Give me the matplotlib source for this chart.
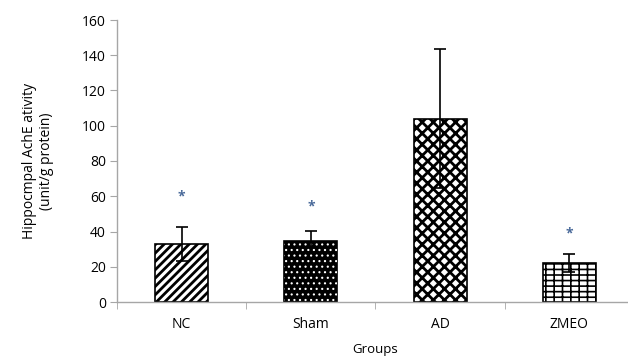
import matplotlib
matplotlib.use("Agg")
import matplotlib.pyplot as plt
import numpy as np

# ----------------------------
# Data
# ----------------------------
groups = ["NC", "Sham", "AD", "ZMEO"]
means = [33, 34.5, 104, 22]
errors = [9.5, 6, 39.5, 5]
star_pos = [60, 54, None, 39]

plt.rcParams["font.family"] = ["Open Sans", "DejaVu Sans"]
plt.rcParams["font.size"] = 10

# ----------------------------
# Plot
# ----------------------------
fig = plt.figure(figsize=(6.28, 3.62), dpi=100)
ax = fig.add_axes([117 / 628, 1 - 302 / 362, (634 - 117) / 628, (302 - 20) / 362])

x = np.arange(len(groups))
w = 0.41
grey = "#a6a6a6"

# NC - diagonal stripes
with plt.rc_context({"hatch.linewidth": 2.0}):
    ax.bar(x[0], means[0], w, facecolor="white", edgecolor="black", hatch="////", linewidth=1.2)

# Sham - black with white dots
ax.bar(x[1], means[1], w, facecolor="black", edgecolor="black", linewidth=1.2)
with plt.rc_context({"hatch.linewidth": 0.8}):
    ax.bar(x[1], means[1], w, facecolor="none", edgecolor="white", hatch="...", linewidth=0)

# AD - diamond check
with plt.rc_context({"hatch.linewidth": 2.0}):
    ax.bar(x[2], means[2], w, facecolor="white", edgecolor="black", hatch="xxx", linewidth=1.2)

# ZMEO - brick-like grid
with plt.rc_context({"hatch.linewidth": 1.2}):
    ax.bar(x[3], means[3], w, facecolor="white", edgecolor="black", hatch="---||", linewidth=1.2)

ax.errorbar(x, means, yerr=errors, fmt="none", ecolor="black", elinewidth=1.2,
            capsize=4, capthick=1.2)

for xi, s in zip(x, star_pos):
    if s is not None:
        ax.text(xi, s, "*", ha="center", va="center", fontsize=10,
                color="#4a6a9a", fontweight="bold")

ax.set_xlim(-0.5, 3.5)
ax.set_ylim(0, 160)
ax.set_yticks(np.arange(0, 161, 20))
ax.set_xticks(x)
ax.set_xticklabels(groups)
ax.set_xticks(np.arange(-0.5, 3.6, 1), minor=True)
ax.tick_params(axis="x", which="major", length=0, pad=11)
ax.tick_params(axis="x", which="minor", length=5, color=grey, direction="out")
ax.tick_params(axis="y", length=5, color=grey, direction="out", pad=3)

for side in ["top", "right"]:
    ax.spines[side].set_visible(False)
for side in ["left", "bottom"]:
    ax.spines[side].set_color(grey)
    ax.spines[side].set_linewidth(1.0)

ax.set_xlabel("Groups", labelpad=8, fontsize=9.5)
ax.set_ylabel("Hippocmpal AchE ativity\n(unit/g protein)", labelpad=20)

fig.savefig("out.png", dpi=100)
plt.close(fig)
